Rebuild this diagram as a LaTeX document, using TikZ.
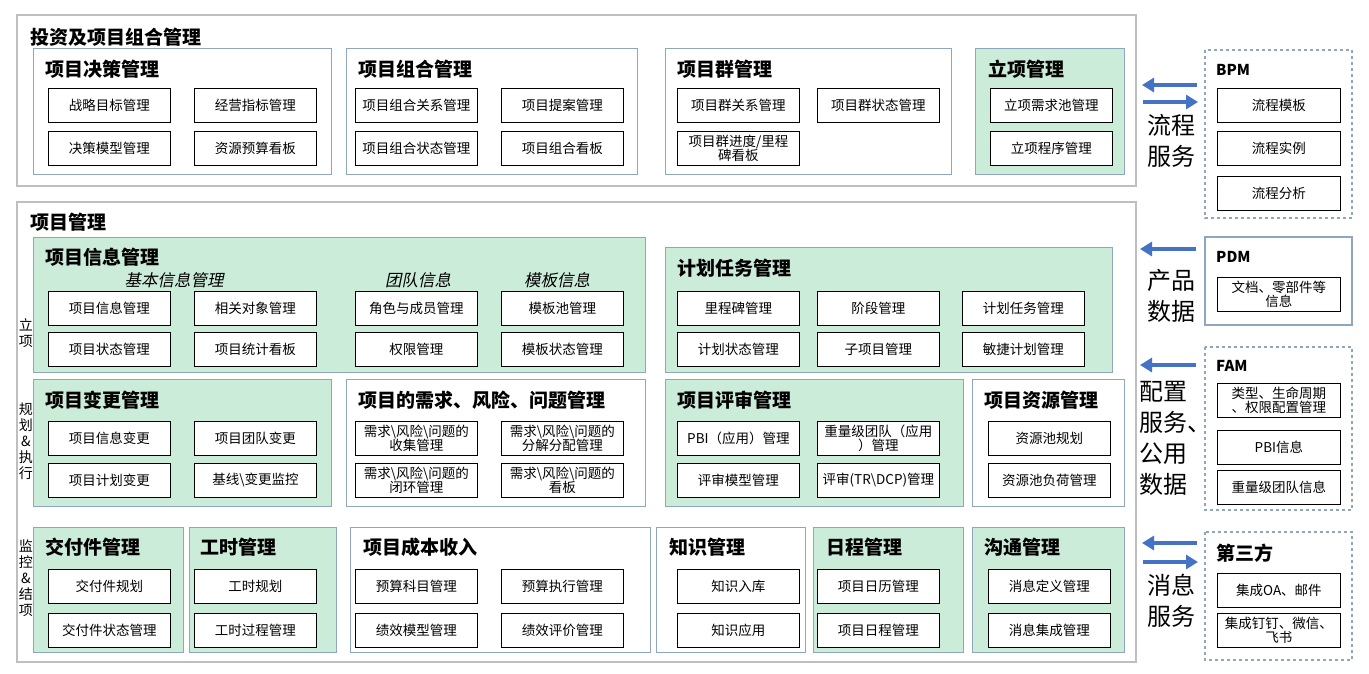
\documentclass[tikz,border=0pt]{standalone}
\usepackage{fontspec}
\setmainfont{Noto Sans CJK SC}
\newfontfamily\slfont[FakeSlant=0.2]{Noto Sans CJK SC}
\usetikzlibrary{arrows.meta}
\definecolor{gfill}{RGB}{204,236,218}
\definecolor{gline}{RGB}{142,166,190}
\definecolor{oline}{RGB}{191,191,191}
\definecolor{ablue}{RGB}{68,114,196}
\tikzset{
 itm/.style={draw=black,fill=white,line width=0.8pt,minimum width=122pt,minimum height=34pt,inner sep=1pt,anchor=north west,align=center,text width=120pt,font=\fontsize{13.5}{14.5}\selectfont},
 grn/.style={draw=gline,fill=gfill,line width=1pt},
 wht/.style={draw=gline,fill=white,line width=1pt},
 outer/.style={draw=oline,line width=1.2pt},
 dsh/.style={draw=gline,dashed,line width=1.2pt},
 ttl/.style={anchor=west,inner sep=0pt,font=\fontsize{19}{21}\selectfont\bfseries},
 sub/.style={inner sep=0pt,font=\fontsize{16.5}{18}\slfont},
 side/.style={inner sep=0pt,align=center,font=\fontsize{14}{16}\selectfont},
 svc/.style={inner sep=0pt,align=left,anchor=north,font=\fontsize{24}{31}\selectfont},
 arr/.style={draw=ablue,line width=4pt,-{Triangle[length=12pt,width=14pt]}},
}
\newcommand\bx[4]{\node[itm] (#1) at (#2,#3) {#4};}
\newcommand\ttlnode[4]{\node[ttl] (#1) at (#2,#3) {#4};}
\begin{document}
\begin{tikzpicture}[x=1pt,y=-1pt]
\useasboundingbox (0,0) rectangle (1369,673);
\fill[white] (0,0) rectangle (1369,673);
% ===== top group
\draw[outer] (17,15) rectangle (1136,186);
\ttlnode{t0}{30}{37}{投资及项目组合管理}
\draw[wht] (33,48) rectangle (331,174);
\draw[wht] (346,48) rectangle (637,174);
\draw[wht] (665,48) rectangle (951,174);
\draw[grn] (975,48) rectangle (1124,174);
\ttlnode{t1}{45}{69}{项目决策管理}
\ttlnode{t2}{358}{69}{项目组合管理}
\ttlnode{t3}{677}{69}{项目群管理}
\ttlnode{t4}{988}{69}{立项管理}
\bx{a1}{48}{88}{战略目标管理}
\bx{a2}{194}{88}{经营指标管理}
\bx{a3}{48}{131}{决策模型管理}
\bx{a4}{194}{131}{资源预算看板}
\bx{b1}{355}{88}{项目组合关系管理}
\bx{b2}{501}{88}{项目提案管理}
\bx{b3}{355}{131}{项目组合状态管理}
\bx{b4}{501}{131}{项目组合看板}
\bx{c1}{677}{88}{项目群关系管理}
\bx{c2}{817}{88}{项目群状态管理}
\bx{c3}{677}{131}{项目群进度/里程\\碑看板}
\bx{d1}{990}{88}{立项需求池管理}
\bx{d2}{990}{131}{立项程序管理}
% ===== bottom group
\draw[outer] (17,202) rectangle (1136,662);
\ttlnode{t5}{30}{222}{项目管理}
\draw[grn] (33,237) rectangle (645,372);
\draw[grn] (665,247) rectangle (1112,372);
\draw[grn] (33,379) rectangle (331,506);
\draw[wht] (346,379) rectangle (645,506);
\draw[grn] (665,379) rectangle (963,506);
\draw[wht] (972,379) rectangle (1124,506);
\draw[grn] (33,527) rectangle (183,652);
\draw[grn] (189,527) rectangle (336,652);
\draw[wht] (350,527) rectangle (650,652);
\draw[wht] (656,527) rectangle (805,652);
\draw[grn] (813,527) rectangle (963,652);
\draw[grn] (972,527) rectangle (1124,652);
\ttlnode{t6}{45}{257}{项目信息管理}
\node[sub] (s1) at (174,280) {基本信息管理};
\node[sub] (s2) at (418,280) {团队信息};
\node[sub] (s3) at (557,280) {模板信息};
\ttlnode{t7}{677}{268}{计划任务管理}
\ttlnode{t8}{45}{400}{项目变更管理}
\ttlnode{t9}{358}{400}{项目的需求、风险、问题管理}
\ttlnode{t10}{677}{400}{项目评审管理}
\ttlnode{t11}{984}{400}{项目资源管理}
\ttlnode{t12}{45}{547}{交付件管理}
\ttlnode{t13}{200}{547}{工时管理}
\ttlnode{t14}{363}{547}{项目成本收入}
\ttlnode{t15}{669}{547}{知识管理}
\ttlnode{t16}{826}{547}{日程管理}
\ttlnode{t17}{984}{547}{沟通管理}
\bx{e1}{48}{291}{项目信息管理}
\bx{e2}{194}{291}{相关对象管理}
\bx{e3}{48}{332}{项目状态管理}
\bx{e4}{194}{332}{项目统计看板}
\bx{e5}{355}{291}{角色与成员管理}
\bx{e6}{501}{291}{模板池管理}
\bx{e7}{355}{332}{权限管理}
\bx{e8}{501}{332}{模板状态管理}
\bx{f1}{677}{291}{里程碑管理}
\bx{f2}{817}{291}{阶段管理}
\bx{f3}{962}{291}{计划任务管理}
\bx{f4}{677}{332}{计划状态管理}
\bx{f5}{817}{332}{子项目管理}
\bx{f6}{962}{332}{敏捷计划管理}
\bx{g1}{48}{421}{项目信息变更}
\bx{g2}{194}{421}{项目团队变更}
\bx{g3}{48}{463}{项目计划变更}
\bx{g4}{194}{463}{基线\textbackslash 变更监控}
\bx{h1}{355}{421}{需求\textbackslash 风险\textbackslash 问题的\\收集管理}
\bx{h2}{501}{421}{需求\textbackslash 风险\textbackslash 问题的\\分解分配管理}
\bx{h3}{355}{463}{需求\textbackslash 风险\textbackslash 问题的\\闭环管理}
\bx{h4}{501}{463}{需求\textbackslash 风险\textbackslash 问题的\\看板}
\bx{i1}{677}{421}{PBI（应用）管理}
\bx{i2}{817}{421}{重量级团队（应用\\）管理}
\bx{i3}{677}{463}{评审模型管理}
\bx{i4}{817}{463}{评审(TR\textbackslash DCP)管理}
\bx{j1}{988}{421}{资源池规划}
\bx{j2}{988}{463}{资源池负荷管理}
\bx{k1}{48}{569}{交付件规划}
\bx{k2}{48}{613}{交付件状态管理}
\bx{k3}{194}{569}{工时规划}
\bx{k4}{194}{613}{工时过程管理}
\bx{k5}{355}{569}{预算科目管理}
\bx{k6}{501}{569}{预算执行管理}
\bx{k7}{355}{613}{绩效模型管理}
\bx{k8}{501}{613}{绩效评价管理}
\bx{k9}{677}{569}{知识入库}
\bx{k10}{677}{613}{知识应用}
\bx{k11}{817}{569}{项目日历管理}
\bx{k12}{817}{613}{项目日程管理}
\bx{k13}{988}{569}{消息定义管理}
\bx{k14}{988}{613}{消息集成管理}
% side labels
\node[side,anchor=north] (l1) at (26,318) {立\\项};
\node[side,anchor=north] (l2) at (26,403) {规\\划\\\&\\执\\行};
\node[side,anchor=north] (l3) at (26,540) {监\\控\\\&\\结\\项};
% ===== right side
\draw[dsh] (1205,50) rectangle (1352,218);
\draw[gline,line width=1.2pt] (1205,237) rectangle (1352,325);
\draw[dsh] (1205,347) rectangle (1352,510);
\draw[dsh] (1205,532) rectangle (1352,660);
\ttlnode{r0}{1216}{70}{\fontsize{15}{17}\selectfont BPM}
\ttlnode{r1}{1216}{257}{\fontsize{15}{17}\selectfont PDM}
\ttlnode{r2}{1216}{366}{\fontsize{15}{17}\selectfont FAM}
\ttlnode{r3}{1216}{553}{第三方}
\tikzset{itm/.append style={minimum width=123pt}}
\bx{m1}{1217}{88}{流程模板}
\bx{m2}{1217}{131}{流程实例}
\bx{m3}{1217}{176}{流程分析}
\bx{m4}{1217}{277}{文档、零部件等\\信息}
\bx{m5}{1217}{383}{类型、生命周期\\、权限配置管理}
\bx{m6}{1217}{430}{PBI信息}
\bx{m7}{1217}{470}{重量级团队信息}
\bx{m8}{1217}{573}{集成OA、邮件}
\bx{m9}{1217}{613}{集成钉钉、微信、\\飞书}
% arrows
\coordinate (p1a) at (1197,85); \coordinate (p1b) at (1142,85);
\coordinate (p2a) at (1143,102); \coordinate (p2b) at (1198,102);
\coordinate (p3a) at (1196,249); \coordinate (p3b) at (1140,249);
\coordinate (p4a) at (1196,365); \coordinate (p4b) at (1140,365);
\coordinate (p5a) at (1197,543); \coordinate (p5b) at (1142,543);
\coordinate (p6a) at (1143,562); \coordinate (p6b) at (1198,562);
\draw[arr] (p1a) -- (p1b);
\draw[arr] (p2a) -- (p2b);
\draw[arr] (p3a) -- (p3b);
\draw[arr] (p4a) -- (p4b);
\draw[arr] (p5a) -- (p5b);
\draw[arr] (p6a) -- (p6b);
\node[svc] (v1) at (1171,114) {流程\\服务};
\node[svc] (v2) at (1171,269) {产品\\数据};
\node[svc] (v3) at (1175,381) {配置\\服务、\\公用\\数据};
\node[svc] (v4) at (1171,574) {消息\\服务};
\end{tikzpicture}
\end{document}
